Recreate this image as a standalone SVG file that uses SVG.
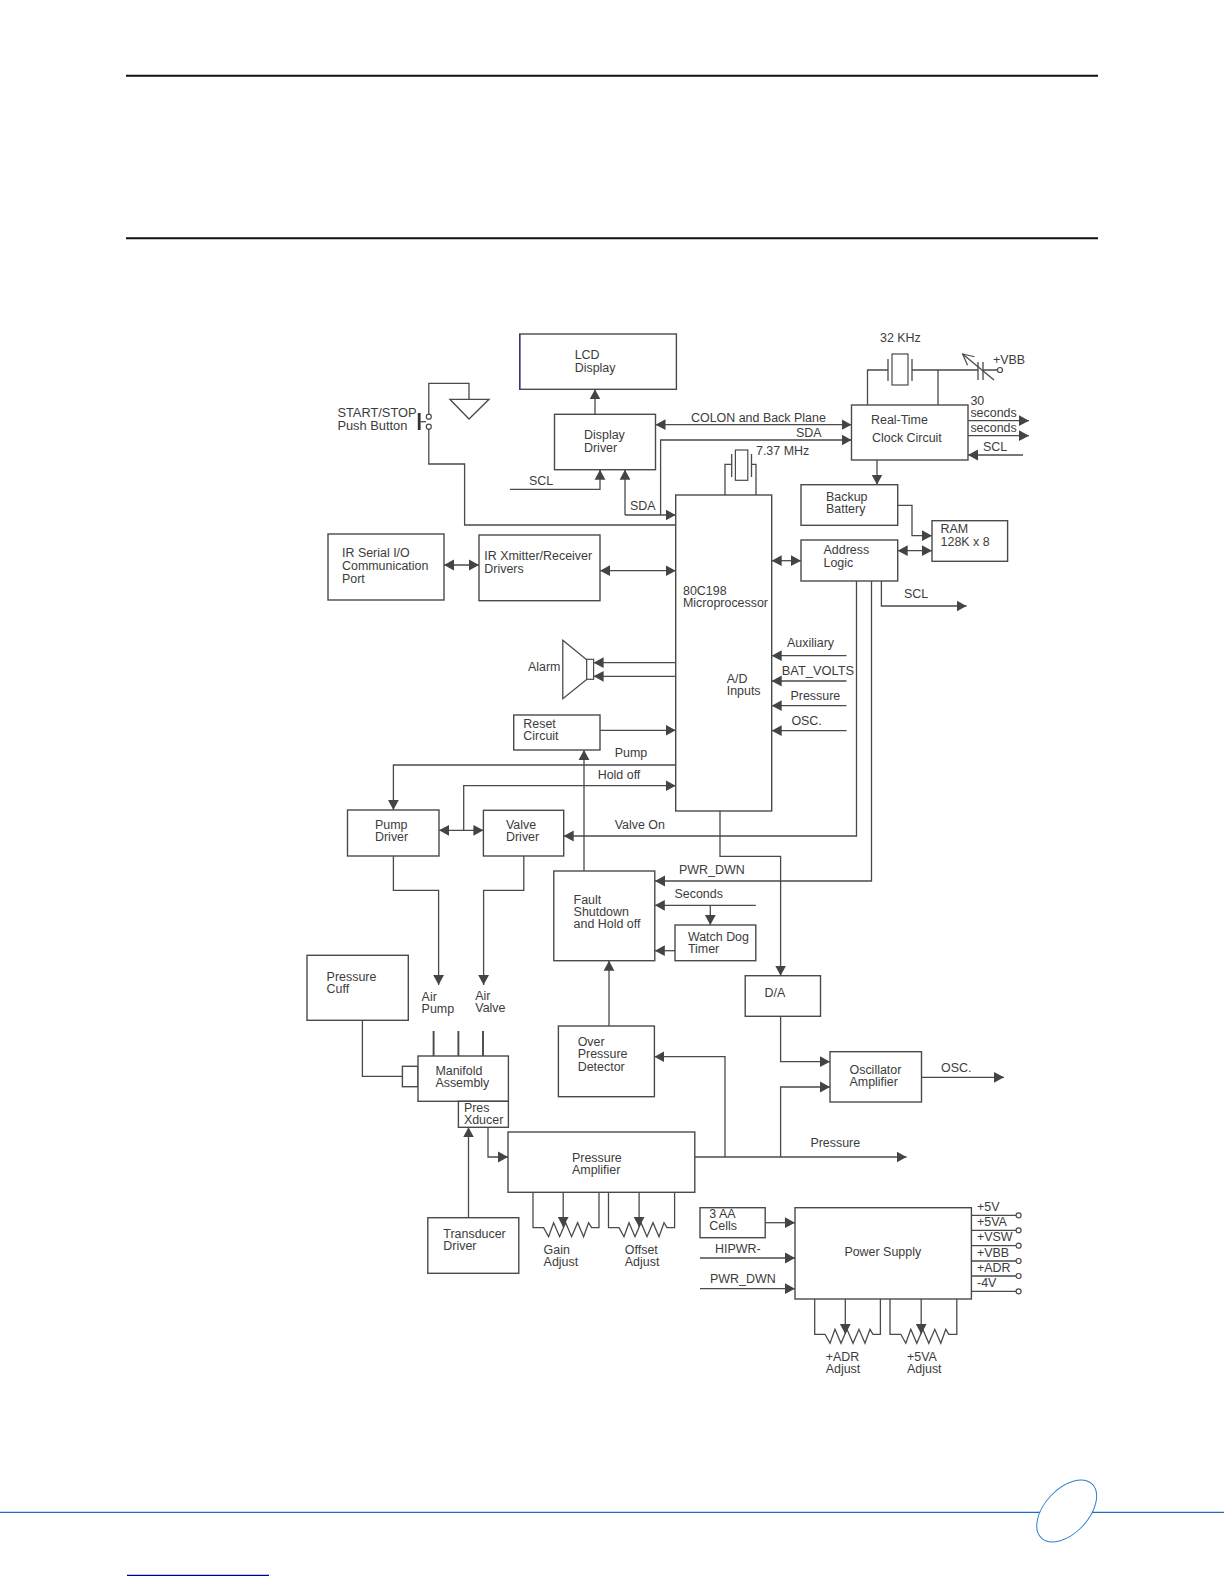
<svg xmlns="http://www.w3.org/2000/svg" width="1224" height="1584" viewBox="0 0 1224 1584">
<style>
text{font-family:"Liberation Sans",Arial,sans-serif;font-size:12.45px;fill:#3c3c3c}
.w{font-size:12.85px}
.b{fill:#fff;stroke:#4a4a4a;stroke-width:1.4}
.n{fill:none;stroke:#4a4a4a;stroke-width:1.3}
.t{stroke-width:1.9}
.a{marker-end:url(#ah)}
.d{marker-start:url(#ah);marker-end:url(#ah)}
.o{fill:#fff;stroke:#4a4a4a;stroke-width:1.2}
</style>
<defs>
<marker id="ah" markerUnits="userSpaceOnUse" markerWidth="11" markerHeight="12" refX="10" refY="6" orient="auto-start-reverse"><path d="M0,0.6L10,6L0,11.4Z" fill="#444"/></marker>
<marker id="oh" markerUnits="userSpaceOnUse" markerWidth="14" markerHeight="14" refX="12" refY="7" orient="auto"><path d="M1,1.5L12,7L1,12.5" fill="none" stroke="#4a4a4a" stroke-width="1.2"/></marker>
</defs>
<rect width="1224" height="1584" fill="#fff"/>
<g id="page">
<path d="M126,75.7H1098M126,238.3H1098" stroke="#111" stroke-width="2" fill="none"/>
<path d="M0,1512.3H1224" stroke="#1f6fc0" stroke-width="1.2" fill="none"/>
<ellipse cx="1066.7" cy="1511" rx="22" ry="37" transform="rotate(43 1066.7 1511)" fill="#fff" stroke="#2f80d0" stroke-width="1"/>
<path d="M127,1575.3H269" stroke="#0000a0" stroke-width="1.3" fill="none"/>
</g>
<g id="connectors">
<path class="n a" d="M595,414.3V389.3"/>
<path class="n d" d="M655.5,424.7H851.5"/>
<path class="n a" d="M660.6,515V440H851.5"/>
<path class="n a" d="M625,515V469.7"/>
<path class="n a" d="M625,515H675.7"/>
<path class="n a" d="M510,489.3H600V469.7"/>
<path class="n" d="M428.8,426.7V464H464.6V525H675.7"/>
<path class="n" d="M428.8,416.7V383.3H469V399.3"/>
<path class="n" d="M420.5,421.7H426"/>
<path class="n" d="M867.5,405V370H888M912,370H978M983,370H997.5M938,405V370"/>
<path class="n" d="M994,380L962.6,354" marker-end="url(#oh)"/>
<path class="n a" d="M968,420.7H1029"/>
<path class="n a" d="M968,435.7H1029"/>
<path class="n a" d="M1023,455H968"/>
<path class="n a" d="M877,460V484.7"/>
<path class="n a" d="M897.7,505.3H912V535.7H932"/>
<path class="n d" d="M897.7,550.7H932"/>
<path class="n d" d="M771.7,560.7H801"/>
<path class="n d" d="M444,565H479"/>
<path class="n d" d="M600,570.7H675.7"/>
<path class="n a" d="M881.4,581V606H966.5"/>
<path class="n" d="M725,495V464.3H731.7M756,495V464.3H751.5"/>
<path class="n a" d="M846.5,655.7H771.7"/>
<path class="n a" d="M846.5,681H771.7"/>
<path class="n a" d="M846.5,705.7H771.7"/>
<path class="n a" d="M846.5,730.7H771.7"/>
<path class="n a" d="M675.7,662.7H593.6"/>
<path class="n a" d="M675.7,676.3H593.6"/>
<path class="n a" d="M600,730.3H675.7"/>
<path class="n a" d="M584,871V750"/>
<path class="n a" d="M675.7,765H393.4V810"/>
<path class="n a" d="M463.7,830V785.7H675.7"/>
<path class="n d" d="M439,830.3H483.4"/>
<path class="n a" d="M856.5,581V836H563.7"/>
<path class="n a" d="M871.5,581V881H655"/>
<path class="n a" d="M720,811V856.3H780.6V975.7"/>
<path class="n a" d="M393.4,856V890.3H438.6V985"/>
<path class="n a" d="M523.8,856V890.3H483.6V985"/>
<path class="n a" d="M755.8,905.3H654.8"/>
<path class="n a" d="M710.3,905.3V925"/>
<path class="n a" d="M675,950.7H654.8"/>
<path class="n a" d="M609,1026V960.7"/>
<path class="n a" d="M780.6,1016.3V1061.7H830"/>
<path class="n a" d="M780.6,1157V1087H830"/>
<path class="n a" d="M921.5,1077.3H1004"/>
<path class="n a" d="M694.8,1157H906.5"/>
<path class="n a" d="M725,1157V1056.7H654.4"/>
<path class="n" d="M362.4,1020.3V1076.3H402.4"/>
<path class="n t" d="M433.6,1031V1056M458.4,1031V1056M483,1031V1056"/>
<path class="n a" d="M468.5,1217.7V1127.3"/>
<path class="n a" d="M488,1127.3V1157H508"/>
<path class="n" d="M533,1192.3V1227.7H543.6l5,9 5,-14 6,14 6,-14 6,14 6,-14 6,14 5,-14 3,5H599V1192.3"/>
<path class="n a" d="M563.2,1192.3V1227"/>
<path class="n" d="M608.5,1192.3V1227.7H619l5,9 5,-14 6,14 6,-14 6,14 6,-14 6,14 5,-14 3,5H674.6V1192.3"/>
<path class="n a" d="M639.1,1192.3V1227"/>
<path class="n a" d="M765.2,1222.7H795"/>
<path class="n a" d="M700,1258H795"/>
<path class="n a" d="M700,1288.7H795"/>
<path class="n" d="M971.4,1215.3H1016M971.4,1230.3H1016M971.4,1245.7H1016M971.4,1261H1016M971.4,1276H1016M971.4,1291.3H1016"/>
<path class="n" d="M814.7,1299V1334.3H825l5,9 5,-14 6,14 6,-14 6,14 6,-14 6,14 5,-14 3,5H880.4V1299"/>
<path class="n a" d="M845.3,1299V1334"/>
<path class="n" d="M890,1299V1334.3H900.8l5,9 5,-14 6,14 6,-14 6,14 6,-14 6,14 5,-14 3,5H956.8V1299"/>
<path class="n a" d="M921.2,1299V1334"/>
</g>
<g id="lcd"><rect class="b" x="519.7" y="334" width="156.7" height="55.3"/><path d="M519.7,334V389.3" stroke="#33338a" stroke-width="1.4"/><text x="574.7" y="359.3">LCD</text><text x="574.7" y="371.7">Display</text></g>
<g id="driver"><rect class="b" x="554.5" y="414.3" width="101" height="55.4"/><text x="584" y="439.3">Display</text><text x="584" y="451.7">Driver</text></g>
<g id="rtc"><rect class="b" x="851.5" y="405" width="116.5" height="55"/><text x="871" y="424">Real-Time</text><text x="872" y="442.3">Clock Circuit</text></g>
<g id="backup"><rect class="b" x="801" y="484.7" width="96.7" height="40.6"/><text x="826" y="501">Backup</text><text x="826" y="513.3">Battery</text></g>
<g id="ram"><rect class="b" x="932" y="520.7" width="75.6" height="40.6"/><text x="940.6" y="533.3">RAM</text><text x="940.6" y="545.7">128K x 8</text></g>
<g id="address"><rect class="b" x="801" y="540" width="96.7" height="41"/><text x="823.5" y="554">Address</text><text x="823.5" y="566.7">Logic</text></g>
<g id="irserial"><rect class="b" x="328" y="534" width="116" height="66"/><text x="342" y="557.3">IR Serial I/O</text><text x="342" y="570">Communication</text><text x="342" y="582.7">Port</text></g>
<g id="irx"><rect class="b" x="479" y="535" width="121" height="65.7"/><text x="484.3" y="560">IR Xmitter/Receiver</text><text x="484.3" y="572.7">Drivers</text></g>
<g id="micro"><rect class="b" x="675.7" y="495" width="96" height="316"/><text x="683" y="595">80C198</text><text x="683" y="607.3">Microprocessor</text><text x="726.7" y="683">A/D</text><text x="726.7" y="695.3">Inputs</text></g>
<g id="xtal737"><rect class="o" x="735.4" y="450" width="12.4" height="30.3"/><path class="n" d="M731.7,454V477M751.5,454V477"/><text x="756" y="454.7">7.37 MHz</text></g>
<g id="xtal32"><rect class="o" x="892" y="354" width="16" height="31"/><path class="n" d="M888,359V381M912,359V381"/><text x="880" y="341.7">32 KHz</text></g>
<g id="trim"><path class="n" d="M978,362V380M983,362V380"/><circle class="o" cx="1000" cy="370" r="2.5"/><text x="993" y="364">+VBB</text></g>
<g id="switch"><path d="M419.2,413V430" stroke="#333" stroke-width="2.8" fill="none"/><circle class="o" cx="428.8" cy="416.7" r="2.5"/><circle class="o" cx="428.8" cy="426.7" r="2.5"/><text class="w" x="337.4" y="417.3">START/STOP</text><text class="w" x="337.4" y="429.7">Push Button</text></g>
<g id="ground"><path class="n" d="M449.9,399.3H489L469,419Z"/></g>
<g id="alarm"><path class="n" d="M562.8,640.3L587,660V679.3L562.8,698.7Z"/><rect class="o" x="586.7" y="659.3" width="6.9" height="20"/><text x="528" y="671.3">Alarm</text></g>
<g id="reset"><rect class="b" x="513.7" y="715" width="86.3" height="35"/><text x="523.3" y="728">Reset</text><text x="523.3" y="740">Circuit</text></g>
<g id="pumpdrv"><rect class="b" x="347.5" y="810" width="91.5" height="46"/><text x="375" y="828.7">Pump</text><text x="375" y="840.7">Driver</text></g>
<g id="valvedrv"><rect class="b" x="483.4" y="810.3" width="80.3" height="45.7"/><text x="506" y="828.7">Valve</text><text x="506" y="841">Driver</text></g>
<g id="fault"><rect class="b" x="553.8" y="871" width="101" height="89.7"/><text x="573.6" y="904">Fault</text><text x="573.6" y="916">Shutdown</text><text x="573.6" y="928.3">and Hold off</text></g>
<g id="watchdog"><rect class="b" x="675" y="925" width="80.8" height="35.7"/><text x="687.9" y="941">Watch Dog</text><text x="687.9" y="953.3">Timer</text></g>
<g id="da"><rect class="b" x="745.2" y="975.7" width="75.3" height="40.6"/><text x="764.5" y="997.3">D/A</text></g>
<g id="oscamp"><rect class="b" x="830" y="1051.7" width="91.5" height="50.3"/><text x="849.5" y="1074">Oscillator</text><text x="849.5" y="1086">Amplifier</text></g>
<g id="overp"><rect class="b" x="558.4" y="1026" width="96" height="70.7"/><text x="577.7" y="1045.7">Over</text><text x="577.7" y="1058.3">Pressure</text><text x="577.7" y="1070.7">Detector</text></g>
<g id="cuff"><rect class="b" x="307" y="955.3" width="101.3" height="65"/><text x="326.6" y="981">Pressure</text><text x="326.6" y="993.3">Cuff</text></g>
<g id="manifold"><rect class="b" x="402.4" y="1066.3" width="15.6" height="20.4"/><rect class="b" x="418" y="1056" width="90.4" height="45.3"/><text x="435.4" y="1074.7">Manifold</text><text x="435.4" y="1087">Assembly</text></g>
<g id="xducer"><rect class="b" x="458.4" y="1101.3" width="50" height="26"/><text x="463.9" y="1111.7">Pres</text><text x="463.9" y="1124.3">Xducer</text></g>
<g id="presamp"><rect class="b" x="508" y="1132" width="186.8" height="60.3"/><text x="572" y="1161.7">Pressure</text><text x="572" y="1174">Amplifier</text></g>
<g id="transducer"><rect class="b" x="427.8" y="1217.7" width="91" height="55.6"/><text x="443.3" y="1238">Transducer</text><text x="443.3" y="1250">Driver</text></g>
<g id="cells"><rect class="b" x="700" y="1207.7" width="65.2" height="30"/><text x="709.3" y="1218">3 AA</text><text x="709.3" y="1230.3">Cells</text></g>
<g id="power"><rect class="b" x="795" y="1207.7" width="176.4" height="91.3"/><text x="844.4" y="1256">Power Supply</text>
<circle class="o" cx="1018.6" cy="1215.3" r="2.5"/><circle class="o" cx="1018.6" cy="1230.3" r="2.5"/><circle class="o" cx="1018.6" cy="1245.7" r="2.5"/><circle class="o" cx="1018.6" cy="1261" r="2.5"/><circle class="o" cx="1018.6" cy="1276" r="2.5"/><circle class="o" cx="1018.6" cy="1291.3" r="2.5"/>
<text x="977" y="1210.7">+5V</text><text x="977" y="1226">+5VA</text><text x="977" y="1241">+VSW</text><text x="977" y="1256.7">+VBB</text><text x="977" y="1271.7">+ADR</text><text x="977" y="1287.3">-4V</text></g>
<g id="labels">
<text x="691" y="421.7">COLON and Back Plane</text>
<text x="796" y="437.3">SDA</text>
<text x="970.4" y="405">30</text><text x="970.4" y="417">seconds</text><text x="970.4" y="432.3">seconds</text>
<text x="983" y="450.7">SCL</text>
<text x="529" y="485">SCL</text>
<text x="630" y="510">SDA</text>
<text x="904" y="598.3">SCL</text>
<text x="787" y="646.7">Auxiliary</text>
<text class="w" x="781.8" y="675">BAT_VOLTS</text>
<text x="790.5" y="700">Pressure</text>
<text x="791.4" y="725">OSC.</text>
<text x="614.7" y="757.3">Pump</text>
<text x="597.7" y="779.3">Hold off</text>
<text x="614.7" y="829.3">Valve On</text>
<text x="679" y="874">PWR_DWN</text>
<text x="674.5" y="898.3">Seconds</text>
<text x="421.6" y="1001">Air</text><text x="421.6" y="1013.3">Pump</text>
<text x="475.3" y="1000">Air</text><text x="475.3" y="1012.3">Valve</text>
<text x="941" y="1071.7">OSC.</text>
<text x="810.4" y="1146.7">Pressure</text>
<text x="543.6" y="1253.7">Gain</text><text x="543.6" y="1266">Adjust</text>
<text x="624.8" y="1253.7">Offset</text><text x="624.8" y="1266">Adjust</text>
<text x="715" y="1252.7">HIPWR-</text>
<text x="710" y="1282.7">PWR_DWN</text>
<text x="825.7" y="1360.5">+ADR</text><text x="825.7" y="1372.5">Adjust</text>
<text x="907" y="1360.5">+5VA</text><text x="907" y="1372.5">Adjust</text>
</g>
</svg>
